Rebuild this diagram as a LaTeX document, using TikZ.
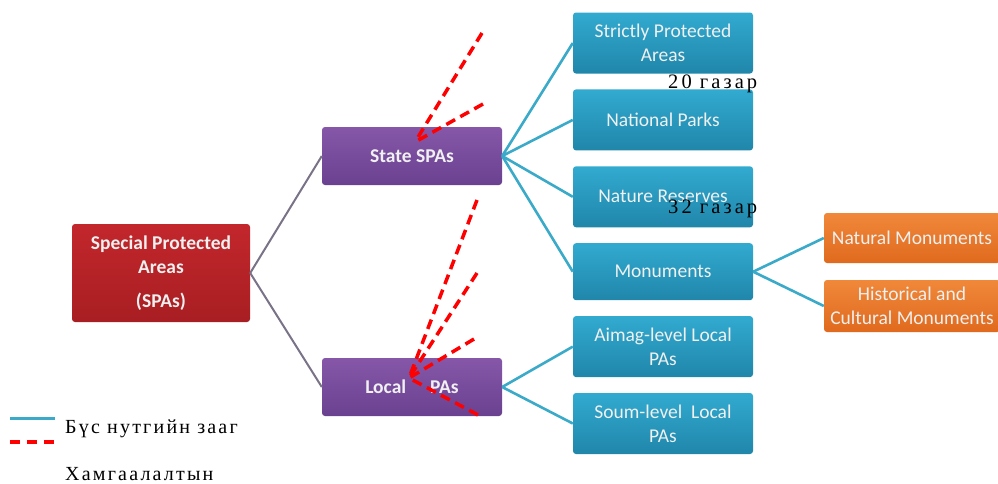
\documentclass[tikz,border=0pt]{standalone}
\usepackage{fontspec}
\setmainfont{Liberation Serif}
\setsansfont{Carlito}
\newfontfamily\notefont[LetterSpace=15]{Liberation Serif}
\newfontfamily\keyfont[LetterSpace=11]{Liberation Serif}
\usetikzlibrary{positioning}
\definecolor{spared}{HTML}{C2272C}
\definecolor{spareddark}{HTML}{A81E22}
\definecolor{spapurple}{HTML}{8657A8}
\definecolor{spapurpledark}{HTML}{6A4190}
\definecolor{spablue}{HTML}{32AAD0}
\definecolor{spabluedark}{HTML}{2086AA}
\definecolor{spaorange}{HTML}{F0883A}
\definecolor{spaorangedark}{HTML}{E06A1E}
\definecolor{linkblue}{HTML}{3AAAC8}
\definecolor{linkgray}{HTML}{7A7388}

\begin{document}
\begin{tikzpicture}[
  x=1pt, y=-1pt,
  font=\sffamily\fontsize{19.5}{24}\selectfont,
  base/.style={rounded corners=3pt, align=center, inner sep=2pt,
    text=white!94!black},
  top/.style={base, minimum width=178pt, minimum height=98pt,
    top color=spared, bottom color=spareddark,
    font=\sffamily\bfseries\fontsize{19.5}{24}\selectfont},
  mid/.style={base, minimum width=180pt, minimum height=58pt,
    top color=spapurple, bottom color=spapurpledark,
    font=\sffamily\bfseries\fontsize{19.5}{24}\selectfont},
  leaf/.style={base, minimum width=180pt, minimum height=61pt,
    top color=spablue, bottom color=spabluedark},
  mon/.style={base, minimum width=176pt, minimum height=50pt,
    top color=spaorange, bottom color=spaorangedark},
  link/.style={line width=2.6pt, draw=linkblue},
  trunk/.style={line width=2pt, draw=linkgray},
  redmark/.style={line width=3.5pt, draw=red, dash pattern=on 10pt off 6pt},
  note/.style={font=\notefont\fontsize{20.5}{22}\selectfont, text=black, inner sep=0pt},
  key/.style={font=\keyfont\fontsize{20}{22}\selectfont, text=black, inner sep=0pt}
]
\useasboundingbox (0,0) rectangle (998,483);
\clip (0,0) rectangle (998,483);

\node[top] (S) at (161,273) {Special Protected\\Areas\\[10pt](SPAs)};
\node[mid] (St) at (412,156) {State SPAs};
\node[mid] (Lo) at (412,387) {Local \quad PAs};

\node[leaf] (P1) at (663,43) {Strictly Protected\\Areas};
\node[leaf, below=15.5pt of P1] (P2) {National Parks};
\node[leaf, below=15.5pt of P2] (P3) {Nature Reserves};
\node[leaf, below=15.5pt of P3, minimum height=57pt] (P4) {Monuments};
\node[leaf, below=15.5pt of P4] (P5) {Aimag-level Local\\PAs};
\node[leaf, below=15.5pt of P5] (P6) {Soum-level \ Local\\PAs};

\node[mon] (M1) at (912,238) {Natural Monuments};
\node[mon, minimum height=52pt] (M2) at (912,306) {Historical and\\Cultural Monuments};

\draw[trunk] (S.east) -- (St.west);
\draw[trunk] (S.east) -- (Lo.west);
\foreach \k in {P1,P2,P3,P4}
  \draw[link] (St.east) -- (\k.west);
\foreach \k in {P5,P6}
  \draw[link] (Lo.east) -- (\k.west);
\draw[link] (P4.east) -- (M1.west);
\draw[link] (P4.east) -- (M2.west);

% red dashed marks
\coordinate (sTip) at (415,142);
\coordinate (sA) at (482,33);
\coordinate (sB) at (483,104);
\draw[redmark] (sA) -- (sTip);
\draw[redmark] (sB) -- (sTip);
\coordinate (lTip) at (409,378);
\coordinate (lA) at (477,200);
\coordinate (lB) at (477,273);
\coordinate (lC) at (474,339);
\coordinate (lD) at (478,415);
\foreach \k in {lA,lB,lC,lD}
  \draw[redmark] (\k) -- (lTip);

\node[note, anchor=west] (n20) at (668,84) {20 газар};
\node[note, anchor=west] (n32) at (668,209) {32 газар};

% legend
\coordinate (g1) at (10,418);
\coordinate (g2) at (55,418);
\coordinate (g3) at (10,442);
\coordinate (g4) at (55,442);
\draw[link, line width=3pt] (g1) -- (g2);
\draw[redmark, dash pattern=on 10pt off 7pt] (g3) -- (g4);
\node[key, anchor=west] (l1) at (65,429) {Бүс нутгийн зааг};
\node[key, anchor=west] (l2) at (65,474) {Хамгаалалтын};
\end{tikzpicture}
\end{document}
